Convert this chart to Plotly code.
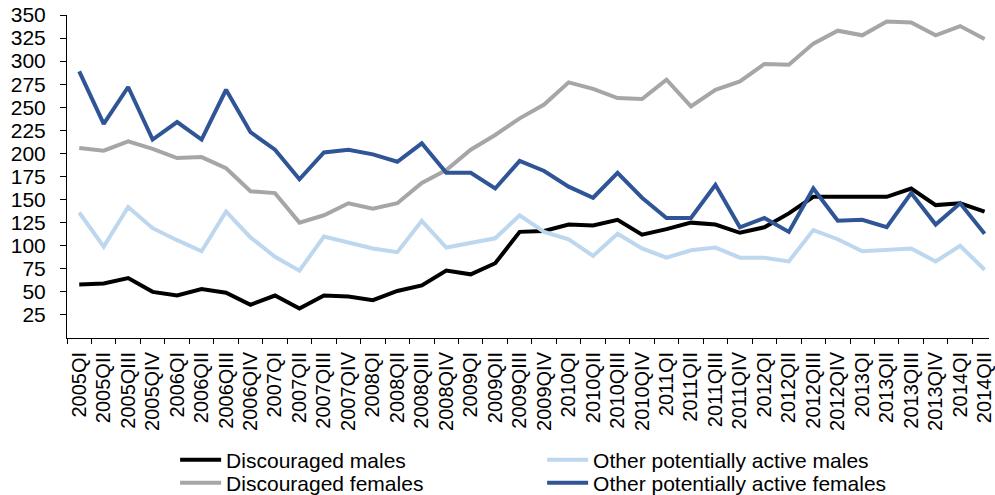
import plotly.graph_objects as go

# Quarterly categories 2005QI .. 2014QII
years = list(range(2005, 2015))
roman = ["I", "II", "III", "IV"]
quarters = [f"{y}Q{r}" for y in years for r in roman][:38]

# Thousands of persons
discouraged_males = [58, 59, 65, 50, 46, 53, 49, 36, 46, 32, 46, 45, 41, 51, 57, 73, 69, 81,
                     115, 116, 123, 122, 128, 112, 118, 125, 123, 114, 120, 135, 153, 153,
                     153, 153, 162, 144, 146, 137]
other_active_males = [136, 99, 142, 119, 106, 94, 137, 109, 88, 73, 110, 104, 97, 93, 127, 98,
                      103, 108, 133, 115, 107, 89, 113, 97, 87, 95, 98, 87, 87, 83, 117, 107,
                      94, 95, 97, 83, 100, 74]
discouraged_females = [206, 203, 213, 205, 195, 196, 184, 159, 157, 125, 133, 146, 140, 146,
                       168, 182, 204, 220, 238, 253, 277, 270, 260, 259, 280, 251, 269, 278,
                       297, 296, 319, 333, 328, 343, 342, 328, 338, 324]
other_active_females = [289, 232, 272, 215, 234, 215, 269, 223, 204, 172, 201, 204, 199, 191,
                        211, 179, 179, 162, 192, 181, 164, 152, 179, 152, 130, 130, 166, 120,
                        130, 115, 162, 127, 128, 120, 157, 123, 146, 113]

y_ticks = list(range(25, 351, 25))

# (name, values, colour, legend row)
series = [
    ("Discouraged males", discouraged_males, "#000000", "legend"),
    ("Other potentially active males", other_active_males, "#BDD7EE", "legend"),
    ("Discouraged females", discouraged_females, "#A6A6A6", "legend2"),
    ("Other potentially active females", other_active_females, "#2F5597", "legend2"),
]

FONT = "Liberation Sans, Arial, sans-serif"

fig = go.Figure()
for name, vals, color, leg in series:
    fig.add_trace(go.Scatter(
        x=quarters, y=vals, name=name, mode="lines",
        line=dict(color=color, width=4),
        legend=leg,
    ))

legend_style = dict(
    orientation="h",
    xref="container", yref="container",
    x=0.176, xanchor="left", yanchor="middle",
    entrywidth=311, entrywidthmode="pixels",
    itemwidth=41,
    font=dict(family=FONT, size=21, color="#000000"),
    bgcolor="rgba(0,0,0,0)",
)

fig.update_layout(
    width=995, height=495,
    margin=dict(l=67, r=0, t=15, b=157),
    paper_bgcolor="white", plot_bgcolor="white",
    font=dict(family=FONT, size=20, color="#000000"),
    showlegend=True,
    legend=dict(legend_style, y=1 - 460 / 495),
    legend2=dict(legend_style, y=1 - 483 / 495),
    xaxis=dict(
        type="category",
        categoryorder="array", categoryarray=quarters,
        range=[-0.5, 37.18],
        tickson="boundaries",
        ticks="outside", ticklen=5, tickcolor="#000000", tickwidth=1,
        tickangle=-90,
        ticklabelstandoff=5,
        tickfont=dict(family=FONT, size=20, color="#000000"),
        showline=True, linecolor="#000000", linewidth=1,
        showgrid=False, zeroline=False,
    ),
    yaxis=dict(
        range=[0, 350],
        tickvals=y_ticks,
        ticks="outside", ticklen=6, tickcolor="#000000", tickwidth=1,
        ticklabelstandoff=10,
        tickfont=dict(family=FONT, size=21, color="#000000"),
        showline=True, linecolor="#000000", linewidth=1,
        showgrid=False, zeroline=False,
    ),
)

fig.write_html("out.html")
